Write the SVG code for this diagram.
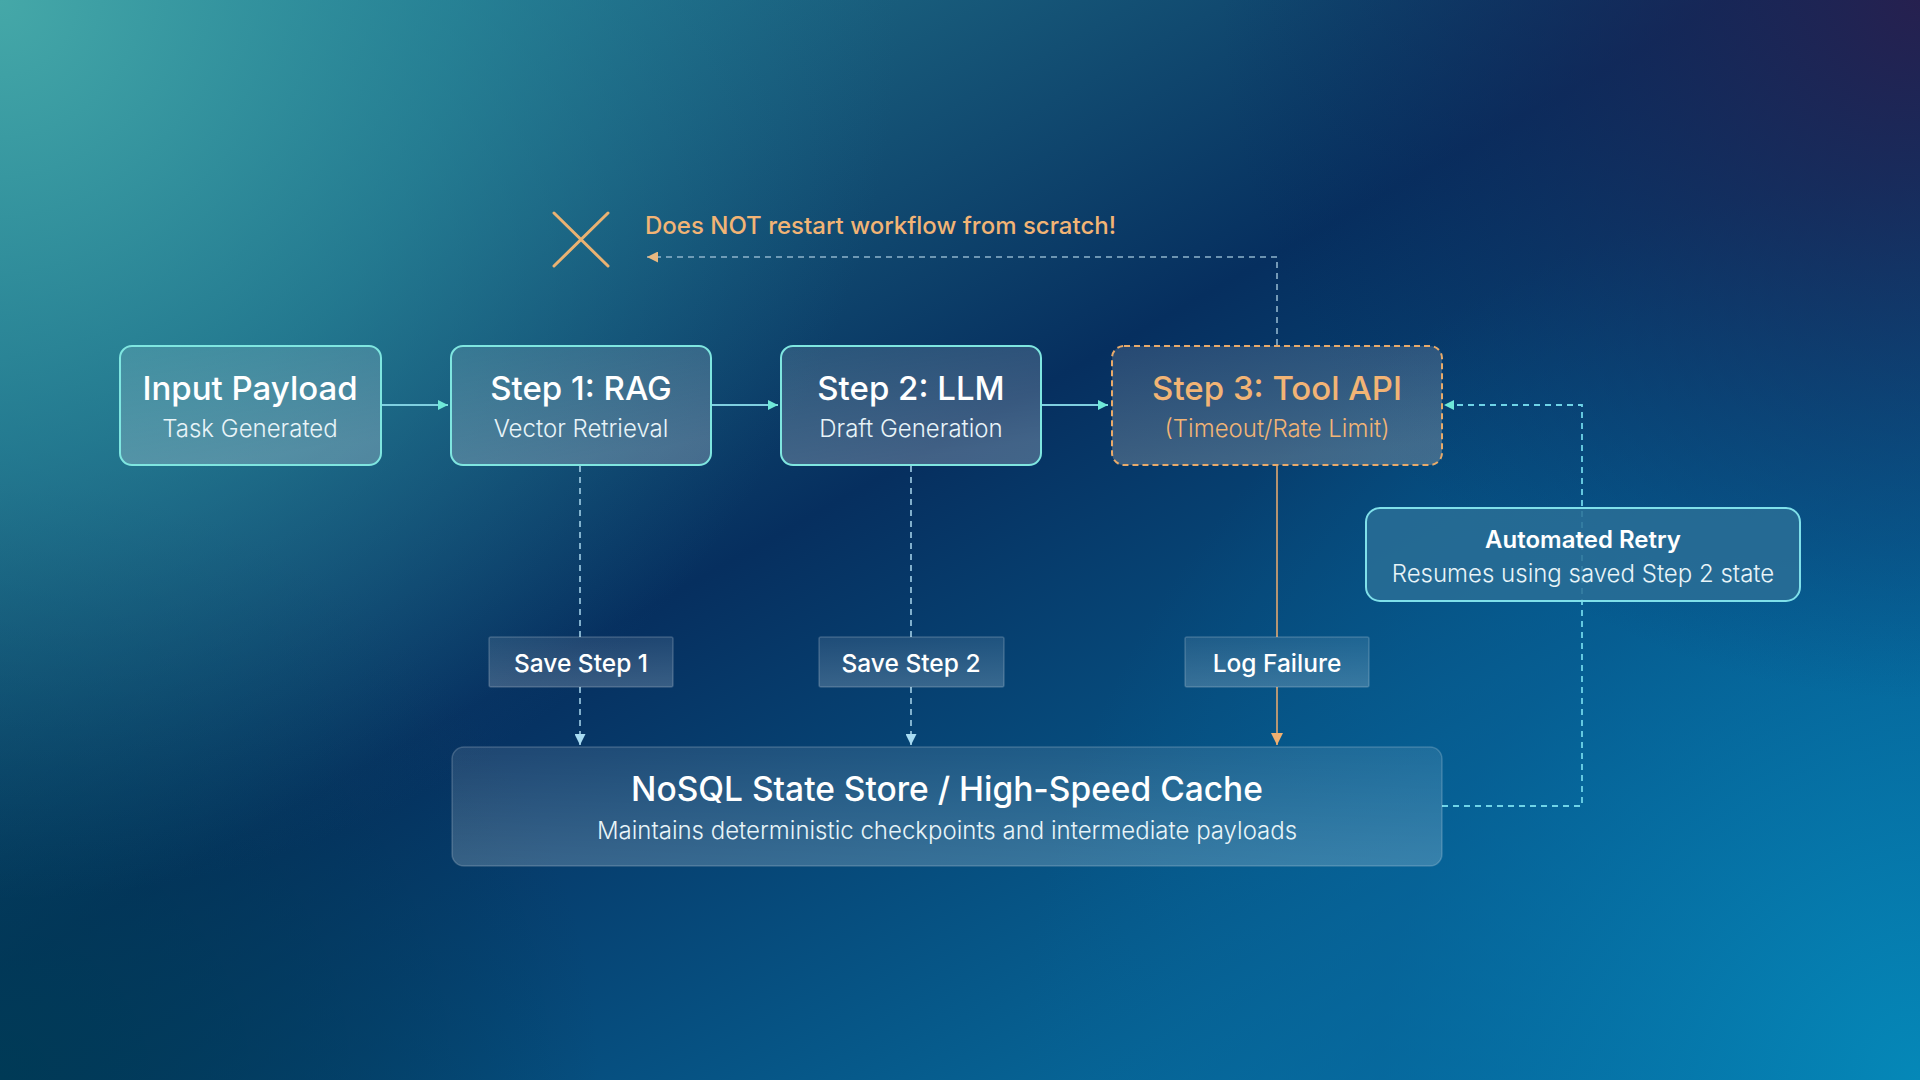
<svg xmlns="http://www.w3.org/2000/svg" width="1920" height="1080" viewBox="0 0 1920 1080">
<defs>
<linearGradient id="bgBase" x1="0" y1="0" x2="1" y2="1">
<stop offset="0" stop-color="#2c8d9a"/>
<stop offset="0.45" stop-color="#062f5f"/>
<stop offset="1" stop-color="#0686b8"/>
</linearGradient>
<radialGradient id="tl" cx="0" cy="0" r="900" gradientUnits="userSpaceOnUse">
<stop offset="0" stop-color="#45a8a8" stop-opacity="1"/>
<stop offset="0.5" stop-color="#2a8a9c" stop-opacity="0.6"/>
<stop offset="1" stop-color="#1a6a90" stop-opacity="0"/>
</radialGradient>
<radialGradient id="tr" cx="1920" cy="0" r="700" gradientUnits="userSpaceOnUse">
<stop offset="0" stop-color="#26204f" stop-opacity="1"/>
<stop offset="1" stop-color="#0a2a5e" stop-opacity="0"/>
</radialGradient>
<radialGradient id="br" cx="1920" cy="1080" r="900" gradientUnits="userSpaceOnUse">
<stop offset="0" stop-color="#0588b8" stop-opacity="1"/>
<stop offset="0.6" stop-color="#06629a" stop-opacity="0.5"/>
<stop offset="1" stop-color="#06629a" stop-opacity="0"/>
</radialGradient>
<radialGradient id="bl" cx="0" cy="1080" r="600" gradientUnits="userSpaceOnUse">
<stop offset="0" stop-color="#003a56" stop-opacity="1"/>
<stop offset="1" stop-color="#003a56" stop-opacity="0"/>
</radialGradient>
<linearGradient id="nodeFill" x1="0" y1="0" x2="0.3" y2="1">
<stop offset="0" stop-color="#ffffff" stop-opacity="0.12"/>
<stop offset="1" stop-color="#ffffff" stop-opacity="0.24"/>
</linearGradient>
<linearGradient id="failFill" x1="0" y1="0" x2="0.3" y2="1">
<stop offset="0" stop-color="#9aa6b8" stop-opacity="0.22"/>
<stop offset="1" stop-color="#b8b8b8" stop-opacity="0.32"/>
</linearGradient>
<linearGradient id="boxFill" x1="0" y1="0" x2="0" y2="1">
<stop offset="0" stop-color="#ffffff" stop-opacity="0.10"/>
<stop offset="1" stop-color="#ffffff" stop-opacity="0.20"/>
</linearGradient>
<marker id="arTeal" viewBox="0 0 10 10" refX="10" refY="5" markerWidth="10" markerHeight="10" markerUnits="userSpaceOnUse" orient="auto">
<path d="M0 0 L10 5 L0 10 Z" fill="#6fe8d8"/>
</marker>
<marker id="arBlue" viewBox="0 0 10 10" refX="10" refY="5" markerWidth="11" markerHeight="11" markerUnits="userSpaceOnUse" orient="auto">
<path d="M0 0 L10 5 L0 10 Z" fill="#a8dcf2"/>
</marker>
<marker id="arOrange" viewBox="0 0 10 10" refX="10" refY="5" markerWidth="12" markerHeight="12" markerUnits="userSpaceOnUse" orient="auto">
<path d="M0 0 L10 5 L0 10 Z" fill="#f0b070"/>
</marker>
<marker id="arBeige" viewBox="0 0 10 10" refX="10" refY="5" markerWidth="11" markerHeight="11" markerUnits="userSpaceOnUse" orient="auto">
<path d="M0 0 L10 5 L0 10 Z" fill="#e8b880"/>
</marker>
</defs>
<style>
.t { font-family: Inter, "Noto Sans", "Liberation Sans", sans-serif; text-anchor: middle; }
.title { font-size: 33px; font-weight: 500; fill: #ffffff; }
.sub { font-size: 24px; font-weight: 300; fill: #e8f4f8; }
.orange { fill: #f2b475; }
.node { fill: url(#nodeFill); stroke: #7fe6e0; stroke-width: 2; }
.fail { fill: url(#failFill); stroke: #e8aa6a; stroke-width: 2; stroke-dasharray: 6 4; }
.save { fill: url(#boxFill); stroke: #ffffff; stroke-opacity: 0.18; stroke-width: 1.5; }
.saveT { font-size: 24.5px; font-weight: 500; fill: #ffffff; }
.flow { stroke: #7fcfe0; stroke-width: 2; fill: none; }
.dashB { stroke: #a0cfe6; stroke-width: 1.6; stroke-dasharray: 6 5; fill: none; }
.dashTop { stroke: #8fb4cc; stroke-width: 1.6; stroke-dasharray: 6 5; fill: none; }
.dashR { stroke: #6fd4e8; stroke-width: 1.8; stroke-dasharray: 6 5; fill: none; }
.solidO { stroke: #e0a870; stroke-width: 1.6; fill: none; }
</style>
<rect width="1920" height="1080" fill="url(#bgBase)"/>
<rect width="1920" height="1080" fill="url(#bl)"/>
<rect width="1920" height="1080" fill="url(#br)"/>
<rect width="1920" height="1080" fill="url(#tr)"/>
<rect width="1920" height="1080" fill="url(#tl)"/>

<g id="connectors">
<path class="flow" d="M381 405 H448" marker-end="url(#arTeal)"/>
<path class="flow" d="M711 405 H778" marker-end="url(#arTeal)"/>
<path class="flow" d="M1041 405 H1108" marker-end="url(#arTeal)"/>
<path class="dashTop" d="M1277 345 V257 H647" marker-end="url(#arBeige)"/>
<path class="dashR" d="M1442 806 H1582 V405 H1444" marker-end="url(#arTeal)"/>
<path class="dashB" d="M580 466 V637"/>
<path class="dashB" d="M580 687 V745" marker-end="url(#arBlue)"/>
<path class="dashB" d="M911 466 V637"/>
<path class="dashB" d="M911 687 V745" marker-end="url(#arBlue)"/>
<path class="solidO" d="M1277 466 V637"/>
<path class="solidO" d="M1277 687 V745" marker-end="url(#arOrange)"/>
</g>

<g id="warning">
<path d="M554 213 L608 266 M608 213 L554 266" stroke="#eab272" stroke-width="3" fill="none" stroke-linecap="round"/>
<text class="t orange" x="645" y="234" style="text-anchor:start;font-size:24px;font-weight:500">Does NOT restart workflow from scratch!</text>
</g>

<g id="input">
<rect class="node" x="120" y="346" width="261" height="119" rx="12"/>
<text class="t title" x="250" y="400">Input Payload</text>
<text class="t sub" x="250" y="437">Task Generated</text>
</g>
<g id="step1">
<rect class="node" x="451" y="346" width="260" height="119" rx="12"/>
<text class="t title" x="581" y="400">Step 1: RAG</text>
<text class="t sub" x="581" y="437">Vector Retrieval</text>
</g>
<g id="step2">
<rect class="node" x="781" y="346" width="260" height="119" rx="12"/>
<text class="t title" x="911" y="400">Step 2: LLM</text>
<text class="t sub" x="911" y="437">Draft Generation</text>
</g>
<g id="step3">
<rect class="fail" x="1112" y="346" width="330" height="119" rx="12"/>
<text class="t title orange" x="1277" y="400">Step 3: Tool API</text>
<text class="t sub orange" x="1277" y="437">(Timeout/Rate Limit)</text>
</g>

<g id="retry">
<rect class="node" x="1366" y="508" width="434" height="93" rx="14" style="fill:#2a6e96;fill-opacity:0.85;stroke:#7fe0ea"/>
<text class="t" x="1583" y="548" style="font-size:24px;font-weight:600;fill:#ffffff">Automated Retry</text>
<text class="t sub" x="1583" y="582">Resumes using saved Step 2 state</text>
</g>

<g id="save1">
<rect class="save" x="489" y="637" width="184" height="50" rx="2"/>
<text class="t saveT" x="581" y="672">Save Step 1</text>
</g>
<g id="save2">
<rect class="save" x="819" y="637" width="185" height="50" rx="2"/>
<text class="t saveT" x="911" y="672">Save Step 2</text>
</g>
<g id="logfail">
<rect class="save" x="1185" y="637" width="184" height="50" rx="2"/>
<text class="t saveT orange" x="1277" y="672">Log Failure</text>
</g>

<g id="store">
<rect class="save" x="452" y="747" width="990" height="119" rx="12"/>
<text class="t" x="947" y="801" style="font-size:33.5px;font-weight:500;fill:#ffffff">NoSQL State Store / High-Speed Cache</text>
<text class="t sub" x="947" y="839">Maintains deterministic checkpoints and intermediate payloads</text>
</g>
</svg>
